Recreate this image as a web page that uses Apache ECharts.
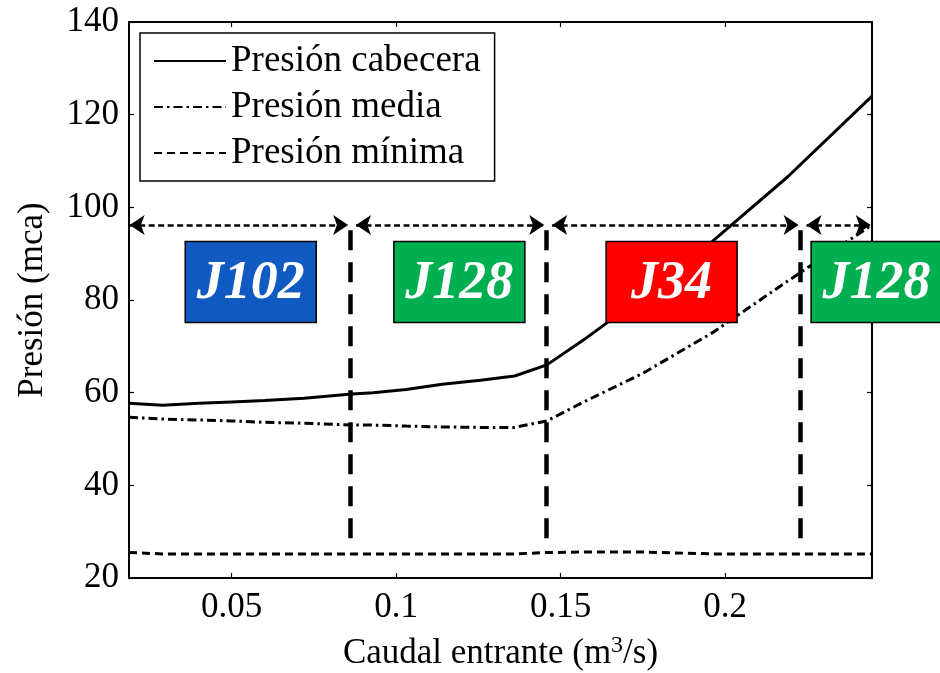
<!DOCTYPE html>
<html>
<head>
<meta charset="utf-8">
<script src="https://cdn.jsdelivr.net/npm/echarts@6/dist/echarts.min.js"></script>
<style>
  html, body { margin: 0; padding: 0; background: #fff; }
  #chart { width: 940px; height: 673px; }
</style>
</head>
<body>
<div id="chart"></div>
<script>
// ---- data ----
const caudal   = [0.0188, 0.029, 0.04, 0.05, 0.06, 0.072, 0.0865, 0.093, 0.103, 0.114, 0.1256, 0.136, 0.1458, 0.157, 0.175, 0.196, 0.219, 0.2446];
const cabecera = [57.7, 57.3, 57.7, 58.0, 58.3, 58.8, 59.7, 60.0, 60.7, 61.8, 62.7, 63.6, 66.0, 71.4, 80.8, 92.6, 106.6, 124.0];
const media    = [54.7, 54.3, 54.1, 53.9, 53.6, 53.4, 53.0, 53.0, 52.8, 52.6, 52.5, 52.5, 53.9, 58.0, 64.2, 72.9, 84.1, 96.2];
const minima   = [25.5, 25.2, 25.2, 25.2, 25.2, 25.2, 25.2, 25.2, 25.2, 25.2, 25.2, 25.2, 25.5, 25.6, 25.6, 25.2, 25.2, 25.2];

const xTicks = [0.05, 0.1, 0.15, 0.2];
const yTicks = [20, 40, 60, 80, 100, 120, 140];
const seriesNames = ['Presión cabecera', 'Presión media', 'Presión mínima'];

// switching points between critical junctions
const switchX = [0.0860, 0.1456, 0.2229];
const switchYLow = 28.6;
const arrowY = 96.2;
const xMin = 0.0188, xMax = 0.2446;

// junction labels (box centres in data coordinates)
const juncLabels = ['J102', 'J128', 'J34', 'J128'];
const juncX = [0.0558, 0.1192, 0.1837, 0.2460];
const juncY = [83.9, 83.9, 83.9, 83.9];
const juncColors = ['#105AC2', '#00B050', '#FF0000', '#00B050'];

// ---- build ----
const FONT = '"Liberation Serif", "Times New Roman", serif';
const pairs = (ys) => caudal.map((x, i) => [x, ys[i]]);

const bounds = [xMin].concat(switchX, [xMax]);
const arrowSegs = [];
for (let i = 0; i < bounds.length - 1; i++) {
  const a = bounds[i] + (i === 0 ? 0.0002 : 0.0018);
  const b = bounds[i + 1] - (i === bounds.length - 2 ? 0.0004 : 0.0006);
  arrowSegs.push([{ coord: [a, arrowY] }, { coord: [b, arrowY] }]);
}
const vLines = switchX.map(x => [{ coord: [x, switchYLow] }, { coord: [x, arrowY] }]);

const axisCommon = {
  axisLine: { show: true, onZero: false, lineStyle: { color: '#000', width: 2 } },
  axisTick: { show: true, inside: true, length: 5, lineStyle: { color: '#000', width: 1.2 } },
  splitLine: { show: false }
};

const chart = echarts.init(document.getElementById('chart'), null, { renderer: 'canvas' });
chart.setOption({
  animation: false,
  backgroundColor: '#fff',
  grid: { left: 129, right: 68, top: 22, bottom: 95, containLabel: false, outerBoundsMode: 'none' },
  legend: {
    data: seriesNames,
    orient: 'vertical',
    left: 140, top: 33,
    padding: [5, 14, 5, 13],
    itemGap: 0,
    itemWidth: 72, itemHeight: 20,
    borderColor: '#000', borderWidth: 1.5,
    backgroundColor: '#fff',
    itemStyle: { opacity: 0 },
    textStyle: { fontFamily: FONT, fontSize: 37, color: '#000', lineHeight: 46 },
    selectedMode: false
  },
  xAxis: [
    Object.assign({}, axisCommon, {
      type: 'value', min: xMin, max: xMax, position: 'bottom',
      axisTick: Object.assign({}, axisCommon.axisTick, { customValues: xTicks }),
      axisLabel: { customValues: xTicks, fontFamily: FONT, fontSize: 35, color: '#000', margin: 12 },
      name: 'Caudal entrante (m{sup|3}/s)',
      nameLocation: 'middle', nameGap: 56,
      nameTextStyle: {
        fontFamily: FONT, fontSize: 35, color: '#000', verticalAlign: 'top', lineHeight: 40,
        rich: { sup: { fontFamily: FONT, fontSize: 24, color: '#000', verticalAlign: 'top', lineHeight: 18 } }
      }
    }),
    Object.assign({}, axisCommon, {
      type: 'value', min: xMin, max: xMax, position: 'top',
      axisTick: Object.assign({}, axisCommon.axisTick, { customValues: xTicks }),
      axisLabel: { show: false }
    })
  ],
  yAxis: [
    Object.assign({}, axisCommon, {
      type: 'value', min: yTicks[0], max: yTicks[yTicks.length - 1], interval: 20, position: 'left',
      axisLabel: { fontFamily: FONT, fontSize: 35, color: '#000', margin: 10 },
      name: 'Presión (mca)', nameLocation: 'middle', nameGap: 79, nameRotate: 90,
      nameTextStyle: { fontFamily: FONT, fontSize: 35, color: '#000' }
    }),
    Object.assign({}, axisCommon, {
      type: 'value', min: yTicks[0], max: yTicks[yTicks.length - 1], interval: 20, position: 'right',
      axisLabel: { show: false }
    })
  ],
  series: [
    {
      name: seriesNames[0], type: 'line', data: pairs(cabecera),
      showSymbol: false, symbol: 'none', smooth: false, z: 3,
      lineStyle: { color: '#000', width: 3, type: 'solid' }, itemStyle: { color: '#000' }
    },
    {
      name: seriesNames[1], type: 'line', data: pairs(media),
      showSymbol: false, symbol: 'none', smooth: false, z: 3,
      lineStyle: { color: '#000', width: 3, type: [9, 4, 2.5, 4] }, itemStyle: { color: '#000' }
    },
    {
      name: seriesNames[2], type: 'line', data: pairs(minima),
      showSymbol: false, symbol: 'none', smooth: false, z: 3,
      lineStyle: { color: '#000', width: 3, type: [8, 5] }, itemStyle: { color: '#000' }
    },
    {
      name: 'limites', type: 'line', data: [], z: 4,
      markLine: {
        silent: true, animation: false, symbol: ['none', 'none'],
        label: { show: false },
        lineStyle: { color: '#000', width: 4.5, type: [20, 12] },
        emphasis: { disabled: true },
        data: vLines
      }
    },
    {
      name: 'flechas', type: 'line', data: [], z: 4,
      markLine: {
        silent: true, animation: false, symbol: ['arrow', 'arrow'], symbolSize: [15, 15],
        label: { show: false },
        lineStyle: { color: '#000', width: 2.5, type: [6, 3.5] },
        itemStyle: { color: '#000' },
        emphasis: { disabled: true },
        data: arrowSegs
      }
    },
    {
      name: 'nudos', type: 'custom', z: 10, clip: false, silent: true,
      data: juncX.map((x, i) => [x, juncY[i]]),
      renderItem: function (params, api) {
        const c = api.coord([api.value(0), api.value(1)]);
        const w = 131, h = 81, i = params.dataIndex;
        return {
          type: 'group',
          children: [
            { type: 'rect', shape: { x: c[0] - w / 2, y: c[1] - h / 2, width: w, height: h },
              style: { fill: juncColors[i], stroke: '#000', lineWidth: 1.5 } },
            { type: 'text', x: c[0], y: c[1] + 2,
              style: { text: juncLabels[i], align: 'center', verticalAlign: 'middle', fill: '#fff',
                fontFamily: FONT, fontSize: 54, fontWeight: 'bold', fontStyle: 'italic' } }
          ]
        };
      }
    }
  ]
});
</script>
</body>
</html>
